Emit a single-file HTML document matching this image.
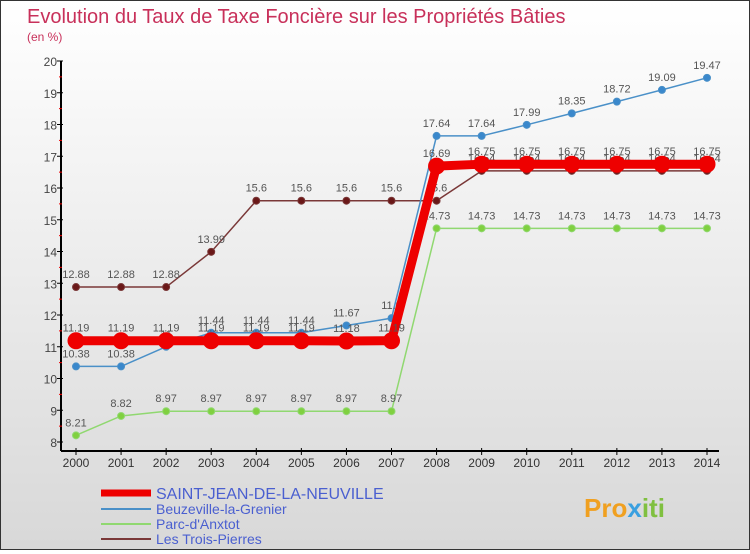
<!DOCTYPE html>
<html><head><meta charset="utf-8"><style>
body{margin:0;width:750px;height:550px;overflow:hidden;font-family:"Liberation Sans",sans-serif}
#wrap{position:relative;width:748px;height:548px;border:1px solid #333;background:linear-gradient(#ffffff,#d8d8d8)}
</style></head><body>
<div id="wrap">
<svg id="chart" width="748" height="548">
<text x="26" y="22" font-size="20" fill="#c8305a">Evolution du Taux de Taxe Foncière sur les Propriétés Bâties</text>
<text x="26" y="40" font-size="12" fill="#c8305a">(en %)</text>
<g id="axes"></g>
<g id="series"></g>
<g id="legend" font-size="14" fill="#4a5fd0">
<line x1="100" y1="492" x2="150" y2="492" stroke="#e00" stroke-width="7"/>
<text x="155" y="498" font-size="16">SAINT-JEAN-DE-LA-NEUVILLE</text>
<line x1="100" y1="508" x2="150" y2="508" stroke="#4a90c8" stroke-width="2"/>
<text x="155" y="513">Beuzeville-la-Grenier</text>
<line x1="100" y1="523" x2="150" y2="523" stroke="#90d870" stroke-width="2"/>
<text x="155" y="528">Parc-d'Anxtot</text>
<line x1="100" y1="538" x2="150" y2="538" stroke="#7a3838" stroke-width="2"/>
<text x="155" y="543">Les Trois-Pierres</text>
</g>
<text x="583" y="516" font-size="26" font-weight="bold" fill="#f0a020">Pro<tspan fill="#3aa0e0">x</tspan><tspan fill="#80c040">iti</tspan></text>
</svg>
</div>
<script>
const years=[2000,2001,2002,2003,2004,2005,2006,2007,2008,2009,2010,2011,2012,2013,2014];
const yTicks=[8,9,10,11,12,13,14,15,16,17,18,19,20];
const sj=[11.19,11.19,11.19,11.19,11.19,11.19,11.18,11.19,16.69,16.75,16.75,16.75,16.75,16.75,16.75];
const beu=[10.38,10.38,11,11.44,11.44,11.44,11.67,11.9,17.64,17.64,17.99,18.35,18.72,19.09,19.47];
const parc=[8.21,8.82,8.97,8.97,8.97,8.97,8.97,8.97,14.73,14.73,14.73,14.73,14.73,14.73,14.73];
const trois=[12.88,12.88,12.88,13.99,15.6,15.6,15.6,15.6,15.6,16.54,16.54,16.54,16.54,16.54,16.54];
const NS="http://www.w3.org/2000/svg";
const xS=i=>75+i*(706-75)/14;
const yS=v=>441-(v-8)*(441-60)/12;
function mk(tag,attrs,parent){const e=document.createElementNS(NS,tag);for(const k in attrs)e.setAttribute(k,attrs[k]);parent.appendChild(e);return e;}
const ax=document.getElementById('axes');
let e=mk('line',{x1:60,y1:yS(20),x2:60,y2:450,stroke:'#000','stroke-width':2},ax);


e=mk('line',{x1:60,y1:450,x2:718,y2:450,stroke:'#000','stroke-width':2},ax);


yTicks.forEach(v=>{
 mk('line',{x1:56,x2:62,y1:yS(v),y2:yS(v),stroke:'#000'},ax);
 if(v<20) mk('line',{x1:58,x2:61,y1:yS(v+0.5),y2:yS(v+0.5),stroke:'#e00'},ax);
 const t=mk('text',{x:56,y:yS(v)+5,'text-anchor':'end','font-size':12,fill:'#444'},ax);t.textContent=v;
 
 
});
years.forEach((y,i)=>{
 mk('line',{x1:xS(i),x2:xS(i),y1:447,y2:454,stroke:'#000'},ax);
 const t=mk('text',{x:xS(i),y:466,'text-anchor':'middle','font-size':12,fill:'#333'},ax);t.textContent=y;
 
 
});
const sg=document.getElementById('series');
function draw(vals,color,w,r,fill,name){
 const g=mk('g',{},sg);
 
 
 mk('polyline',{points:vals.map((v,i)=>xS(i)+','+yS(v)).join(' '),fill:'none',stroke:color,'stroke-width':w},g);
 vals.forEach((v,i)=>{
  const c=mk('circle',{cx:xS(i),cy:yS(v),r:r,fill:fill,stroke:color,'stroke-width':1},g);
  
  
  const t=mk('text',{x:xS(i),y:yS(v)-9,'text-anchor':'middle','font-size':11,fill:'#555'},g);
  t.textContent=String(v);
  
  
 });
}
draw(parc,'#90d870',1.5,3.5,'#80d040','series-parc');
draw(trois,'#7a3838',1.5,3.5,'#6a1818','series-trois-pierres');
draw(beu,'#4a90c8',1.5,3.5,'#3a88cc','series-beuzeville');
draw(sj,'#ee0000',9,8,'#ee0000','series-saint-jean');
</script>
</body></html>
